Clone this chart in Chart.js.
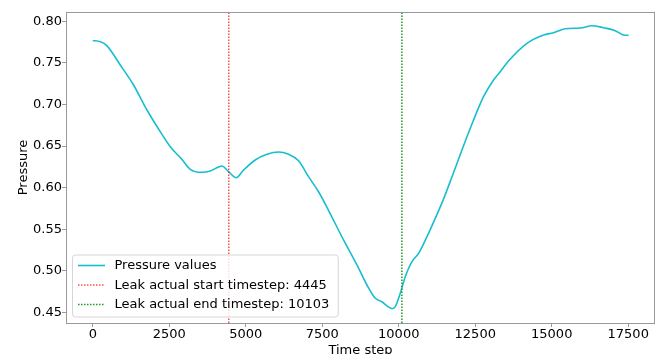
<!DOCTYPE html>
<html lang="en">
<head>
    <meta charset="UTF-8">
    <title>Pressure vs time step</title>
    <script src="https://cdn.jsdelivr.net/npm/chart.js"></script>
    <style>
        html, body { margin: 0; padding: 0; overflow: hidden; background: #fff; }
        canvas { display: block; }
    </style>
</head>
<body>
    <canvas id="pressureChart" width="665" height="362"></canvas>

    <script>
        // Values
        const timesteps = [0, 250, 450, 900, 1333, 1771, 2150, 2533, 2900, 3186, 3568, 3840, 4222, 4438, 4690,
            4929, 5310, 5693, 6072, 6399, 6726, 7052, 7379, 7720, 8196, 8634, 8961, 9232, 9451, 9614, 9778,
            9886, 10049, 10212, 10431, 10648, 10910, 11193, 11440, 11750, 12065, 12445, 12771, 13098, 13317,
            13588, 14190, 14732, 15059, 15441, 15931, 16313, 16693, 17075, 17347, 17510];
        const pressures = [0.777, 0.7755, 0.771, 0.7474, 0.7234, 0.6933, 0.6705, 0.6492, 0.6345, 0.622, 0.6184,
            0.6199, 0.626, 0.6191, 0.6119, 0.6211, 0.6332, 0.64, 0.6428, 0.64, 0.6323, 0.6131, 0.595, 0.5715,
            0.537, 0.5069, 0.4828, 0.4668, 0.4627, 0.4576, 0.4543, 0.4567, 0.4728, 0.4928, 0.5109, 0.5209,
            0.54, 0.563, 0.584, 0.614, 0.6452, 0.6813, 0.7093, 0.7294, 0.7394, 0.7523, 0.7735, 0.7835, 0.7863,
            0.7911, 0.7919, 0.7947, 0.7923, 0.7887, 0.7835, 0.7831];
        const leakStart = 4445;
        const leakEnd = 10103;

        const xTicks = [0, 2500, 5000, 7500, 10000, 12500, 15000, 17500];
        const yTicks = [0.45, 0.50, 0.55, 0.60, 0.65, 0.70, 0.75, 0.80];
        const xLimits = [-875, 18375];
        const yLimits = [0.4371, 0.8112];

        const font = { family: 'DejaVu Sans', size: 13 };
        const spineColor = '#999';

        // box around the plot + matplotlib style legend inside, lower left
        const boxLegend = {
            id: 'boxLegend',
            afterDraw(chart) {
                const ctx = chart.ctx;
                const area = chart.chartArea;
                ctx.save();
                ctx.strokeStyle = spineColor;
                ctx.lineWidth = 1;
                ctx.setLineDash([]);
                ctx.strokeRect(area.left + 0.5, area.top + 0.5, area.right - area.left - 1, area.bottom - area.top);

                ctx.font = font.size + 'px ' + font.family;
                const sets = chart.data.datasets;
                let maxW = 0;
                sets.forEach(ds => { maxW = Math.max(maxW, ctx.measureText(ds.label).width); });
                const x0 = area.left + 6.5;
                const w = 42 + maxW + 9;
                const h = 62;
                const y0 = area.bottom - 6 - h;

                ctx.beginPath();
                ctx.roundRect(x0, y0, w, h, 3);
                ctx.fillStyle = 'rgba(255,255,255,0.8)';
                ctx.fill();
                ctx.strokeStyle = '#d6d6d6';
                ctx.stroke();

                sets.forEach((ds, i) => {
                    const cy = y0 + 10.5 + i * 19.5;
                    ctx.beginPath();
                    ctx.setLineDash(ds.borderDash || []);
                    ctx.strokeStyle = ds.borderColor;
                    ctx.lineWidth = ds.borderWidth;
                    ctx.moveTo(x0 + 5.5, cy);
                    ctx.lineTo(x0 + 32.5, cy);
                    ctx.stroke();
                    ctx.setLineDash([]);
                    ctx.fillStyle = '#000';
                    ctx.textBaseline = 'middle';
                    ctx.fillText(ds.label, x0 + 42, cy + 0.5);
                });
                ctx.restore();
            }
        };

        const ctx = document.getElementById('pressureChart').getContext('2d');

        const config = {
            type: 'line',
            data: {
                datasets: [
                    {
                        label: 'Pressure values',
                        data: timesteps.map((t, i) => ({ x: t, y: pressures[i] })),
                        borderColor: '#17becf',
                        borderWidth: 1.6,
                        pointRadius: 0,
                        cubicInterpolationMode: 'monotone',
                        order: 3
                    },
                    {
                        label: 'Leak actual start timestep: ' + leakStart,
                        data: [{ x: leakStart, y: yLimits[0] }, { x: leakStart, y: yLimits[1] }],
                        borderColor: 'rgba(255,0,0,0.7)',
                        borderWidth: 1.5,
                        borderDash: [1.5, 1.5],
                        pointRadius: 0,
                        order: 1
                    },
                    {
                        label: 'Leak actual end timestep: ' + leakEnd,
                        data: [{ x: leakEnd, y: yLimits[0] }, { x: leakEnd, y: yLimits[1] }],
                        borderColor: '#1f9a1f',
                        borderWidth: 1.5,
                        borderDash: [1.5, 1.5],
                        pointRadius: 0,
                        order: 2
                    }
                ]
            },
            options: {
                responsive: false,
                animation: false,
                layout: { padding: { top: 12, right: 10, left: 0, bottom: 0 } },
                plugins: {
                    legend: { display: false },
                    tooltip: { enabled: false }
                },
                scales: {
                    x: {
                        type: 'linear',
                        min: xLimits[0],
                        max: xLimits[1],
                        afterBuildTicks: s => { s.ticks = xTicks.map(v => ({ value: v })); },
                        afterFit: s => { s.height = 39; },
                        ticks: {
                            color: '#000',
                            font: font,
                            padding: 0,
                            maxRotation: 0,
                            callback: v => String(v)
                        },
                        grid: { drawOnChartArea: false, drawTicks: true, tickLength: 4, color: spineColor },
                        border: { display: false },
                        title: { display: true, text: 'Time step', color: '#000', font: font, padding: { top: 4, bottom: 4 } }
                    },
                    y: {
                        type: 'linear',
                        min: yLimits[0],
                        max: yLimits[1],
                        afterBuildTicks: s => { s.ticks = yTicks.map(v => ({ value: v })); },
                        afterFit: s => { s.width = 66; },
                        ticks: {
                            color: '#000',
                            font: font,
                            padding: 0,
                            callback: v => v.toFixed(2)
                        },
                        grid: { drawOnChartArea: false, drawTicks: true, tickLength: 4, color: spineColor },
                        border: { display: false },
                        title: { display: true, text: 'Pressure', color: '#000', font: font, padding: { top: 16, bottom: 4 } }
                    }
                }
            },
            plugins: [boxLegend]
        };

        const pressureChart = new Chart(ctx, config);
    </script>
</body>
</html>
